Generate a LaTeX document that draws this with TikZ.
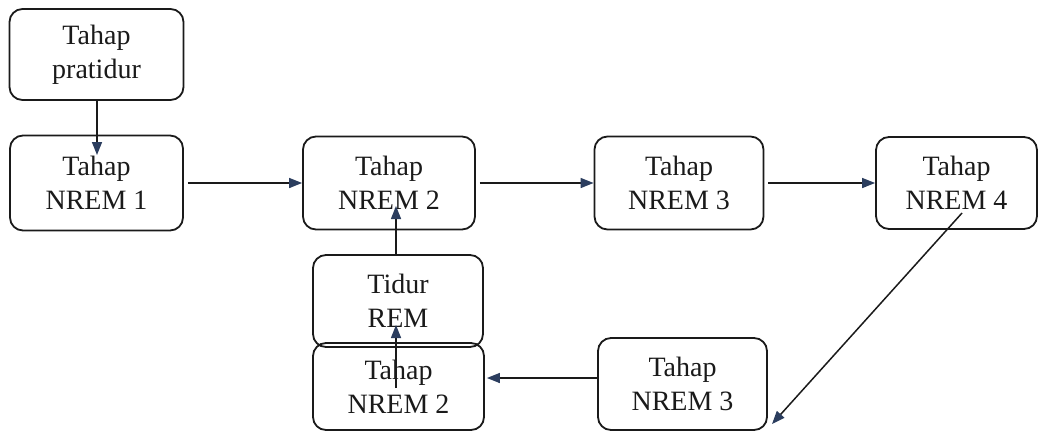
\documentclass[tikz,border=0pt]{standalone}
\usepackage{fontspec}
\setmainfont{Liberation Serif}
\usetikzlibrary{arrows.meta}
\definecolor{linec}{HTML}{1A1A1A}
\definecolor{arrowc}{HTML}{2B3D5E}
\tikzset{
  stagebox/.style={draw=linec, line width=1.8pt, rounded corners=13pt, align=center,
    inner sep=0pt, font=\fontsize{28}{34}\selectfont, text=linec},
  arr/.style={draw=linec, line width=1.5pt, -{Triangle[length=13pt,width=10pt,color=arrowc]}}
}
\begin{document}
\begin{tikzpicture}[x=1pt,y=-1pt]
\useasboundingbox (0,0) rectangle (1040,432);
\node[stagebox, minimum width=174pt, minimum height=91pt] (pr) at (96.5,54.5) {Tahap\\pratidur};
\node[stagebox, minimum width=173pt, minimum height=95pt] (n1) at (96.5,183) {Tahap\\NREM 1};
\node[stagebox, minimum width=172pt, minimum height=93pt] (n2) at (389,183) {Tahap\\NREM 2};
\node[stagebox, minimum width=169pt, minimum height=93pt] (n3) at (679,183) {Tahap\\NREM 3};
\node[stagebox, minimum width=161pt, minimum height=92pt] (n4) at (956.5,183) {Tahap\\NREM 4};
\node[stagebox, minimum width=170pt, minimum height=92pt] (rem) at (398,301) {Tidur\\REM};
\node[stagebox, minimum width=171pt, minimum height=87pt] (n2b) at (398.5,386.5) {Tahap\\NREM 2};
\node[stagebox, minimum width=169pt, minimum height=92pt] (n3b) at (682.5,384) {Tahap\\NREM 3};
\coordinate (t0) at (97,155);
\coordinate (t1) at (396,206);
\coordinate (s2) at (396,388);
\coordinate (t2) at (396,325);
\coordinate (s4) at (962,213);
\coordinate (t4) at (772,424);
\coordinate (h5) at (0,378);
\draw[arr] (pr.south -| t0) -- (t0);
\draw[arr] ([xshift=4pt]n1.east) -- (n2.west);
\draw[arr] ([xshift=4pt]n2.east) -- (n3.west);
\draw[arr] ([xshift=4pt]n3.east) -- (n4.west);
\draw[arr] (rem.north -| t1) -- (t1);
\draw[arr] (s2) -- (t2);
\draw[arr] (s4) -- (t4);
\draw[arr] (n3b.west |- h5) -- ([xshift=2pt]n2b.east |- h5);
\end{tikzpicture}
\end{document}
